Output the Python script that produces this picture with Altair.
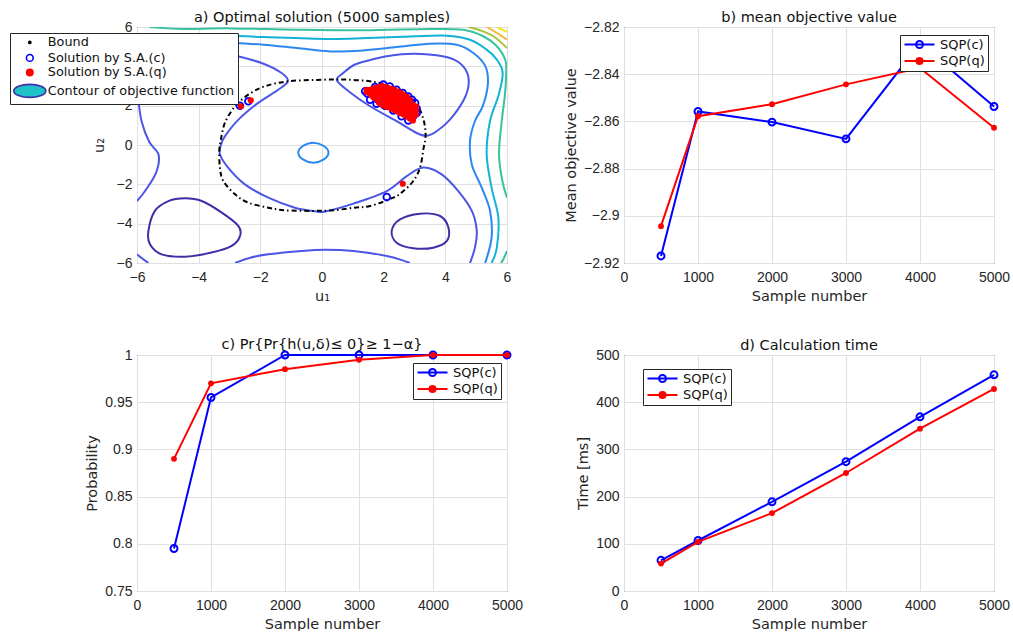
import altair as alt
import pandas as pd

FONT = "DejaVu Sans"
TICK_FONT = "Liberation Sans"
BLUE = "#0000ff"
RED = "#ff0000"
GRID = "#e0e0e0"
TXT = "#262626"

# ---------------- panels b, c, d ----------------
samples = [500, 1000, 2000, 3000, 4000, 5000]
mean_obj_c = [-2.9170, -2.8558, -2.8603, -2.8674, -2.8270, -2.8537]
mean_obj_q = [-2.9044, -2.8578, -2.8527, -2.8443, -2.8374, -2.8627]
prob_c = [0.795, 0.955, 1.0, 1.0, 1.0, 1.0]
prob_q = [0.890, 0.970, 0.985, 0.995, 1.0, 1.0]
time_c = [65, 107, 189, 274, 369, 458]
time_q = [58, 104, 165, 250, 344, 428]
series_names = ["SQP(c)", "SQP(q)"]
sample_ticks = [0, 1000, 2000, 3000, 4000, 5000]

# ---------------- panel a ----------------
u_ticks = [-6, -4, -2, 0, 2, 4, 6]
contour_levels = ["L1", "L2", "L3", "L4", "L5", "L6", "L7", "L8"]
contour_colors = ["#3e2fa6", "#4a56e6", "#2b88f0", "#12b3d6", "#38c3a0",
                  "#a9c23e", "#f6b93b", "#f4e61c"]

# closed contour loops
loop_L1_bottom_left = [(-5.63, -4.37), (-5.42, -3.35), (-4.98, -2.85), (-4.44, -2.71), (-3.90, -2.85),
                       (-3.25, -3.44), (-2.71, -4.12), (-2.66, -4.63), (-2.93, -5.13), (-3.58, -5.47),
                       (-4.44, -5.68), (-5.20, -5.56), (-5.58, -5.05)]
loop_L1_bottom_right = [(2.26, -4.37), (2.53, -3.78), (3.18, -3.49), (3.83, -3.61), (4.10, -4.20),
                        (4.05, -4.88), (3.61, -5.22), (2.96, -5.25), (2.42, -4.97)]
loop_L1_top_left = [(-5.0, 2.6), (-4.75, 2.33), (-4.34, 2.22), (-4.0, 2.32), (-3.75, 2.6),
                    (-3.7, 3.2), (-4.0, 3.8), (-4.4, 4.0), (-4.9, 3.8), (-5.1, 3.2)]
loop_L2_top_right = [(0.48, 3.30), (0.69, 3.66), (1.05, 4.08), (1.56, 4.32), (2.15, 4.53), (2.96, 4.64),
                     (3.72, 4.56), (4.30, 4.33), (4.65, 3.85), (4.76, 3.15), (4.60, 2.30), (4.15, 1.29),
                     (3.72, 0.70), (3.40, 0.47), (3.07, 0.61), (2.42, 1.21), (1.56, 1.97), (0.85, 2.75)]
loop_L3_center = [(-0.77, -0.39), (-0.62, -0.05), (-0.28, 0.12), (0.06, -0.05), (0.21, -0.39),
                  (0.06, -0.73), (-0.28, -0.90), (-0.62, -0.73)]

# open contour curves
curve_L2_main = [(-6.0, -2.85), (-5.74, -2.34), (-5.38, -1.4), (-5.3, -0.5), (-5.6, 0.15), (-5.85, 1.2),
                 (-5.95, 2.3), (-5.95, 3.2), (-5.6, 4.4), (-4.6, 4.95), (-3.6, 4.85), (-2.93, 4.59),
                 (-1.96, 4.17), (-1.31, 3.66), (-1.11, 3.24), (-1.42, 2.81), (-2.07, 2.14), (-2.71, 1.29),
                 (-3.15, 0.44), (-3.28, 0.0), (-3.31, -0.47), (-3.04, -1.16), (-2.50, -2.0), (-1.74, -2.68),
                 (-0.88, -3.19), (-0.23, -3.37), (0.10, -3.38), (1.02, -2.98), (2.10, -2.34), (2.75, -1.58),
                 (3.29, -1.15), (3.88, -1.49), (4.42, -2.34), (4.86, -3.35), (5.02, -4.37), (4.96, -5.22),
                 (4.80, -6.0)]
curve_L2_bottom = [(-2.82, -6.0), (-2.3, -5.72), (-1.74, -5.56), (-0.66, -5.39), (0.10, -5.33),
                   (1.02, -5.39), (2.1, -5.64), (2.64, -5.88), (2.85, -6.0)]
curve_L2_corner = [(-6.0, -5.55), (-5.85, -5.75), (-5.63, -6.0)]
curve_L3_outer = [(-6.0, 4.6), (-5.2, 5.0), (-4.0, 5.25), (-2.88, 5.19), (-1.90, 5.10), (-0.82, 4.93),
                  (0.26, 4.76), (1.34, 4.81), (2.42, 4.98), (3.50, 5.15), (4.37, 5.10), (4.91, 4.68),
                  (5.30, 4.0), (5.38, 3.1), (5.22, 2.0), (4.96, 1.22), (4.80, 0.2), (4.86, -1.0),
                  (5.18, -2.17), (5.45, -3.35), (5.50, -4.71), (5.29, -6.0)]
curve_L4 = [(-6.0, 5.52), (-4.5, 5.56), (-2.98, 5.56), (-1.90, 5.49), (0.26, 5.39), (2.42, 5.49),
            (4.05, 5.56), (4.80, 5.35), (5.34, 4.85), (5.67, 4.34), (5.86, 3.66), (5.72, 2.5),
            (5.45, 1.22), (5.34, -0.47), (5.50, -2.17), (5.72, -3.69), (5.67, -5.22), (5.50, -6.0)]
curve_L5 = [(-5.6, 6.0), (-4.5, 5.9), (-2.98, 5.93), (-0.82, 5.86), (1.34, 5.83), (3.50, 5.90),
            (4.58, 5.86), (5.23, 5.53), (5.67, 5.02), (5.95, 4.3), (5.97, 3.5), (5.93, 2.5),
            (5.83, 1.22), (5.74, -0.47), (5.85, -1.83), (6.0, -2.68)]
curve_L5_corner = [(6.0, -5.39), (5.87, -5.85), (5.8, -6.0)]
curve_L6 = [(4.75, 6.0), (5.1, 5.85), (5.56, 5.53), (6.0, 4.93)]
curve_L7 = [(5.35, 6.0), (5.77, 5.6), (6.0, 5.35)]
curve_L8 = [(5.67, 6.0), (6.0, 5.75)]

bound_points = [(-3.33, -0.3), (-3.28, 0.27), (-3.15, 1.12), (-2.82, 1.97), (-2.39, 2.56), (-1.85, 2.99),
                (-1.09, 3.24), (-0.17, 3.31), (0.69, 3.33), (1.5, 3.25), (2.1, 3.05), (2.7, 2.6),
                (3.07, 2.1), (3.29, 1.3), (3.36, 0.5), (3.29, -0.2), (3.18, -1.15), (2.96, -1.83),
                (2.64, -2.34), (2.31, -2.68), (1.56, -3.10), (1.02, -3.19), (0.37, -3.32), (-0.30, -3.35),
                (-1.20, -3.32), (-1.74, -3.19), (-2.39, -2.93), (-2.82, -2.51), (-3.20, -1.83), (-3.31, -1.15)]

sa_c_points = [(1.40, 2.73), (1.47, 2.62), (1.56, 2.30), (1.77, 2.10), (1.72, 2.95), (1.99, 3.07),
               (2.20, 2.98), (2.42, 2.81), (2.62, 2.65), (2.80, 2.47), (2.92, 2.30), (3.02, 2.14),
               (3.07, 1.85), (3.07, 1.63), (2.95, 1.45), (2.80, 1.25), (2.58, 1.46), (2.31, 1.76),
               (2.04, 2.00), (1.85, 2.25), (2.60, 2.20), (2.20, 2.40), (1.90, 2.60),
               (-2.66, 2.00), (-2.39, 2.22), (2.10, -2.64)]
sa_q_points = [(1.45, 2.70), (1.45, 2.80), (1.55, 2.60), (1.55, 2.80),
               (1.65, 2.45), (1.65, 2.65), (1.65, 2.85),
               (1.75, 2.35), (1.75, 2.55), (1.75, 2.75), (1.75, 2.92),
               (1.85, 2.15), (1.85, 2.35), (1.85, 2.55), (1.85, 2.75), (1.85, 2.95),
               (1.95, 2.05), (1.95, 2.25), (1.95, 2.45), (1.95, 2.65), (1.95, 2.85), (1.95, 3.00),
               (2.05, 1.98), (2.05, 2.18), (2.05, 2.38), (2.05, 2.58), (2.05, 2.78), (2.05, 2.95),
               (2.15, 1.92), (2.15, 2.12), (2.15, 2.32), (2.15, 2.52), (2.15, 2.72), (2.15, 2.90),
               (2.25, 1.85), (2.25, 2.05), (2.25, 2.25), (2.25, 2.45), (2.25, 2.65), (2.25, 2.85),
               (2.35, 1.78), (2.35, 1.98), (2.35, 2.18), (2.35, 2.38), (2.35, 2.58), (2.35, 2.80),
               (2.45, 1.70), (2.45, 1.90), (2.45, 2.10), (2.45, 2.30), (2.45, 2.50), (2.45, 2.72),
               (2.55, 1.62), (2.55, 1.82), (2.55, 2.02), (2.55, 2.22), (2.55, 2.42), (2.55, 2.65),
               (2.65, 1.55), (2.65, 1.75), (2.65, 1.95), (2.65, 2.15), (2.65, 2.35), (2.65, 2.55),
               (2.75, 1.45), (2.75, 1.65), (2.75, 1.85), (2.75, 2.05), (2.75, 2.25), (2.75, 2.45),
               (2.85, 1.35), (2.85, 1.55), (2.85, 1.75), (2.85, 1.95), (2.85, 2.15), (2.85, 2.30),
               (2.95, 1.25), (2.95, 1.45), (2.95, 1.65), (2.95, 1.85), (2.95, 2.05),
               (3.05, 1.55), (3.05, 1.75), (3.05, 1.95),
               (-2.63, 1.97), (-2.31, 2.27), (2.62, -1.97)]

legend_a_names = ["Bound", "Solution by S.A.(c)", "Solution by S.A.(q)", "Contour of objective function"]

contour_curves = [
    ("L1_bl", "L1", True, loop_L1_bottom_left),
    ("L1_br", "L1", True, loop_L1_bottom_right),
    ("L1_tl", "L1", True, loop_L1_top_left),
    ("L2_tr", "L2", True, loop_L2_top_right),
    ("L3_c", "L3", True, loop_L3_center),
    ("L2_main", "L2", False, curve_L2_main),
    ("L2_bottom", "L2", False, curve_L2_bottom),
    ("L2_corner", "L2", False, curve_L2_corner),
    ("L3_outer", "L3", False, curve_L3_outer),
    ("L4", "L4", False, curve_L4),
    ("L5", "L5", False, curve_L5),
    ("L5_corner", "L5", False, curve_L5_corner),
    ("L6", "L6", False, curve_L6),
    ("L7", "L7", False, curve_L7),
    ("L8", "L8", False, curve_L8),
]

# ---------------- helpers ----------------
def mk_axis(values, title, fmt, label_pad, title_pad):
    return alt.Axis(values=values, title=title, format=fmt, grid=True, gridColor=GRID, gridWidth=1,
                    domain=False, ticks=False, tickSize=0, labelFlush=False, labelOverlap=False,
                    labelFont=TICK_FONT, labelFontSize=14, labelColor=TXT, labelPadding=label_pad,
                    titleFont=FONT, titleFontSize=14.5, titleFontWeight="normal", titleColor=TXT,
                    titlePadding=title_pad)


def mk_title(text):
    return alt.Title(text, font=FONT, fontSize=14.5, fontWeight="normal", color="#111111",
                     offset=-5, anchor="middle", frame="group")


def mk_legend(lx, ly, label_offset, stroke_w, font_size):
    return alt.Legend(title=None, orient="none", legendX=lx, legendY=ly, symbolSize=64,
                      symbolStrokeWidth=stroke_w, labelOffset=label_offset, labelFont=FONT,
                      labelFontSize=font_size, labelColor="#111111", labelLimit=400, padding=3,
                      rowPadding=0.5, fillColor="white", strokeColor=TXT, zindex=1,
                      symbolOpacity=1)


# legend glyph paths (line with marker)
PATH_LINE_CIRCLE = ("M-1.25,0L6.25,0M1.625,0A0.875,0.875 0 1,1 3.375,0"
                    "A0.875,0.875 0 1,1 1.625,0Z")
PATH_LINE_DOT = "M-1.25,0L6.25,0M1.75,0A0.75,0.75 0 1,1 3.25,0A0.75,0.75 0 1,1 1.75,0Z"


def line_panel(yc, yq, ydomain, yvalues, yfmt, ytitle, title, lx, ly):
    dfc = pd.DataFrame({"n": samples, "v": yc, "series": series_names[0]})
    dfq = pd.DataFrame({"n": samples, "v": yq, "series": series_names[1]})
    dfa = pd.concat([dfc, dfq], ignore_index=True)
    x = alt.X("n:Q", scale=alt.Scale(domain=[0, 5000], nice=False, zero=False),
              axis=mk_axis(sample_ticks, "Sample number", "d", 7, 5))
    y = alt.Y("v:Q", scale=alt.Scale(domain=ydomain, nice=False, zero=False),
              axis=mk_axis(yvalues, ytitle, yfmt, 5, 5))
    lc = alt.Chart(dfc).mark_line(color=BLUE, strokeWidth=2).encode(x=x, y=y)
    pc = alt.Chart(dfc).mark_point(shape="circle", filled=False, color=BLUE, size=48,
                                   strokeWidth=2, opacity=1).encode(x=x, y=y)
    lq = alt.Chart(dfq).mark_line(color=RED, strokeWidth=2).encode(x=x, y=y)
    pq = alt.Chart(dfq).mark_circle(color=RED, size=34, opacity=1).encode(x=x, y=y)
    leg = mk_legend(lx, ly, 24, 2, 13)
    lg = alt.Chart(dfa).mark_point(opacity=0, filled=True, size=64, strokeWidth=2, clip=True).encode(
        x=x, y=y,
        shape=alt.Shape("series:N", scale=alt.Scale(domain=series_names,
                                                    range=[PATH_LINE_CIRCLE, PATH_LINE_DOT]), legend=leg),
        fill=alt.Fill("series:N", scale=alt.Scale(domain=series_names, range=["transparent", RED]),
                      legend=leg),
        stroke=alt.Stroke("series:N", scale=alt.Scale(domain=series_names, range=[BLUE, RED]),
                          legend=leg),
    )
    return alt.layer(lc, pc, lq, pq, lg).properties(width=370, height=236, title=mk_title(title))


# ---------------- panel a ----------------
rows = []
for name, level, closed, pts in contour_curves:
    for i, (a, b) in enumerate(pts):
        rows.append({"curve": name, "level": level, "closed": closed, "idx": i, "u1": a, "u2": b})
cdf = pd.DataFrame(rows)
bdf = pd.DataFrame({"u1": [p[0] for p in bound_points], "u2": [p[1] for p in bound_points],
                    "idx": list(range(len(bound_points))), "curve": "bound"})
sc_df = pd.DataFrame({"u1": [p[0] for p in sa_c_points], "u2": [p[1] for p in sa_c_points],
                      "entry": legend_a_names[1]})
sq_df = pd.DataFrame({"u1": [p[0] for p in sa_q_points], "u2": [p[1] for p in sa_q_points],
                      "entry": legend_a_names[2]})
sall = pd.concat([sc_df, sq_df], ignore_index=True)

ax = alt.X("u1:Q", scale=alt.Scale(domain=[-6, 6], nice=False, zero=False),
           axis=mk_axis(u_ticks, "u₁", "d", 7, 5))
ay = alt.Y("u2:Q", scale=alt.Scale(domain=[-6, 6], nice=False, zero=False),
           axis=mk_axis(u_ticks, "u₂", "d", 5, 10))
ccol = alt.Color("level:N", scale=alt.Scale(domain=contour_levels, range=contour_colors), legend=None)

c_open = alt.Chart(cdf[~cdf["closed"]]).mark_line(interpolate="cardinal", strokeWidth=2, clip=True).encode(
    x=ax, y=ay, color=ccol, detail="curve:N", order="idx:Q")
c_closed = alt.Chart(cdf[cdf["closed"]]).mark_line(interpolate="cardinal-closed", strokeWidth=2,
                                                   clip=True).encode(
    x=ax, y=ay, color=ccol, detail="curve:N", order="idx:Q")
bound = alt.Chart(bdf).mark_line(interpolate="cardinal-closed", color="black", strokeWidth=2,
                                 strokeDash=[5, 3, 1.5, 3], clip=True).encode(
    x=ax, y=ay, detail="curve:N", order="idx:Q")
pts_c = alt.Chart(sc_df).mark_point(shape="circle", filled=False, color=BLUE, size=45, strokeWidth=1.8,
                                    opacity=1).encode(x=ax, y=ay)
pts_q = alt.Chart(sq_df).mark_circle(color=RED, size=38, opacity=1).encode(x=ax, y=ay)

PATH_A = [
    "M2.325,0A0.275,0.275 0 1,1 2.875,0A0.275,0.275 0 1,1 2.325,0Z",
    "M1.75,0A0.85,0.85 0 1,1 3.45,0A0.85,0.85 0 1,1 1.75,0Z",
    "M1.8,0A0.8,0.8 0 1,1 3.4,0A0.8,0.8 0 1,1 1.8,0Z",
    "M-1.4,0A4,1.625 0 1,1 6.6,0A4,1.625 0 1,1 -1.4,0Z",
]
leg_a = mk_legend(-127, 6, 22, 1.6, 12.8)
leg_layer_a = alt.Chart(sall).mark_point(opacity=0, filled=True, size=64, strokeWidth=1.6,
                                         clip=True).encode(
    x=ax, y=ay,
    shape=alt.Shape("entry:N", scale=alt.Scale(domain=legend_a_names, range=PATH_A), legend=leg_a),
    fill=alt.Fill("entry:N", scale=alt.Scale(domain=legend_a_names,
                                             range=["black", "transparent", RED, "#1fc2c8"]), legend=leg_a),
    stroke=alt.Stroke("entry:N", scale=alt.Scale(domain=legend_a_names,
                                                 range=["black", BLUE, RED, "#3e2fa6"]), legend=leg_a),
)
panel_a = alt.layer(c_open, c_closed, bound, pts_c, pts_q, leg_layer_a).properties(
    width=370, height=236, title=mk_title("a) Optimal solution (5000 samples)"))

panel_b = line_panel(mean_obj_c, mean_obj_q, [-2.92, -2.82],
                     [-2.92, -2.90, -2.88, -2.86, -2.84, -2.82], ".2~f",
                     "Mean objective value", "b) mean objective value", 276, 8)
panel_c = line_panel(prob_c, prob_q, [0.75, 1.0], [0.75, 0.8, 0.85, 0.9, 0.95, 1.0], ".2~f",
                     "Probability", "c) Pr{Pr{h(u,δ)≤ 0}≥ 1−α}", 276, 8)
panel_d = line_panel(time_c, time_q, [0, 500], [0, 100, 200, 300, 400, 500], "d",
                     "Time [ms]", "d) Calculation time", 19, 14)

chart = alt.concat(panel_a, panel_b, panel_c, panel_d, columns=2,
                   spacing={"row": 92, "column": 117}, bounds="flush").resolve_scale(
    shape="independent", fill="independent", stroke="independent", color="independent"
).resolve_legend(
    shape="independent", fill="independent", stroke="independent", color="independent"
).properties(
    padding={"left": 9, "top": 9, "right": 0, "bottom": 0}, background="white"
).configure_view(stroke=TXT, strokeWidth=1)

chart.save("out.html", embed_options={"renderer": "svg", "actions": False})
